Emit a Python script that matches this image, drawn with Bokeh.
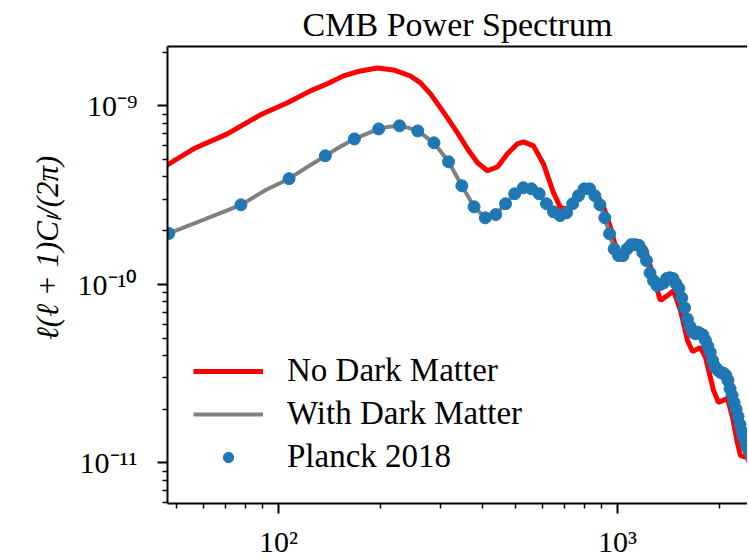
from bokeh.plotting import figure
from bokeh.models import (Range1d, LogAxis, CustomJSTickFormatter, Legend,
                          LegendItem, ColumnDataSource, FixedTicker)
from bokeh.embed import file_html
from bokeh.resources import INLINE

# ---------------- data (values in units of 1e-10) ----------------
SCALE = 1e-10

NODM_ELL = [45.2, 47.1, 56.2, 70.7, 88.5, 106.3, 124.3, 139.5, 155.5, 174.6,
            195.9, 218.4, 245.1, 262.4, 280.8, 300.6, 315.1, 337.3, 361.0, 386.4,
            413.5, 442.6, 473.6, 507.0, 528.1, 565.3, 605.0, 647.5, 679.1, 712.0,
            736.8, 788.6, 826.9, 861.3, 903.4, 953.7, 1006.7, 1048.6,
            1077.5, 1153, 1209, 1277, 1339, 1404, 1463, 1534, 1609, 1664,
            1757, 1818, 1920, 1986, 2111, 2184, 2259, 2306, 2418, 2502]
NODM_VAL = [4.44, 4.68, 5.75, 6.97, 8.91, 10.4, 12.13, 13.3, 14.72, 15.69,
            16.3, 15.9, 14.7, 13.45, 11.67, 9.74, 8.57, 7.06, 5.75, 4.80,
            4.33, 4.55, 5.39, 6.13, 6.29, 5.97, 4.73, 3.26, 2.69, 2.65,
            2.83, 3.26, 3.43, 3.26, 2.83, 2.08, 1.41, 1.45,
            1.58, 1.76, 1.58, 1.09, 0.812, 0.866, 0.923, 0.714, 0.485, 0.421,
            0.443, 0.390, 0.255, 0.218, 0.230, 0.180, 0.129, 0.110, 0.107, 0.091]

DM_ELL = [44, 47.5, 60, 77.5, 92, 107.5, 122, 137.5, 152, 167.5, 182, 197.5, 212,
          227.5, 242, 257.5, 287.5, 317.5, 347.5, 377.5, 407.5, 437.5, 467.5,
          497.5, 527.5, 557.5, 587.5, 617.5, 647.5, 677.5, 707.5, 737.5, 767.5,
          797.5, 827.5, 857.5, 887.5, 917.5, 947.5, 977.5, 1007.5, 1037.5, 1067.5,
          1097.5, 1127.5, 1157.5, 1187.5, 1217.5, 1247.5, 1277.5, 1307.5, 1337.5,
          1367.5, 1397.5, 1427.5, 1457.5, 1487.5, 1517.5, 1547.5, 1577.5, 1607.5,
          1637.5, 1667.5, 1697.5, 1727.5, 1757.5, 1787.5, 1817.5, 1847.5, 1877.5,
          1907.5, 1937.5, 1967.5, 1997.5, 2027.5, 2057.5, 2087.5, 2117.5, 2147.5,
          2177.5, 2207.5, 2237.5, 2267.5, 2297.5, 2327.5, 2357.5, 2387.5, 2417.5,
          2447.5, 2477.5]
DM_VAL = [1.85, 1.93, 2.30, 2.79, 3.39, 3.91, 4.56, 5.25, 5.90, 6.53, 6.97, 7.43, 7.64,
          7.73, 7.53, 7.24, 6.21, 4.86, 3.57, 2.72, 2.36, 2.46, 2.83,
          3.22, 3.48, 3.43, 3.22, 2.83, 2.55, 2.43, 2.52, 2.83, 3.14,
          3.43, 3.43, 3.14, 2.79, 2.36, 1.92, 1.58, 1.45, 1.45, 1.58,
          1.67, 1.67, 1.65, 1.51, 1.36, 1.16, 1.05, 0.985, 1.00,
          1.02, 1.08, 1.09, 1.08, 1.01, 0.95, 0.84, 0.74, 0.64,
          0.58, 0.54, 0.53, 0.54, 0.53, 0.52, 0.485, 0.45, 0.416,
          0.375, 0.347, 0.335, 0.325, 0.32, 0.317, 0.309, 0.29, 0.261,
          0.239, 0.218, 0.20, 0.182, 0.164, 0.150, 0.139, 0.129, 0.122,
          0.116, 0.110]

PLANCK_ELL = [47.5, 77.5, 107.5, 137.5, 167.5, 197.5, 227.5, 257.5, 287.5, 317.5,
              347.5, 377.5, 407.5, 437.5, 467.5, 497.5, 527.5, 557.5, 587.5, 617.5,
              647.5, 677.5, 707.5, 737.5, 767.5, 797.5, 827.5, 857.5, 887.5, 917.5,
              947.5, 977.5, 1007.5, 1037.5, 1067.5, 1097.5, 1127.5, 1157.5, 1187.5,
              1217.5, 1247.5, 1277.5, 1307.5, 1337.5, 1367.5, 1397.5, 1427.5, 1457.5,
              1487.5, 1517.5, 1547.5, 1577.5, 1607.5, 1637.5, 1667.5, 1697.5, 1727.5,
              1757.5, 1787.5, 1817.5, 1847.5, 1877.5, 1907.5, 1937.5, 1967.5, 1997.5,
              2027.5, 2057.5, 2087.5, 2117.5, 2147.5, 2177.5, 2207.5, 2237.5, 2267.5,
              2297.5, 2327.5, 2357.5, 2387.5, 2417.5, 2447.5, 2477.5]
PLANCK_VAL = [1.93, 2.79, 3.91, 5.25, 6.53, 7.43, 7.73, 7.24, 6.21, 4.86,
              3.57, 2.72, 2.36, 2.46, 2.83, 3.22, 3.48, 3.43, 3.22, 2.83,
              2.55, 2.43, 2.52, 2.83, 3.14, 3.43, 3.43, 3.14, 2.79, 2.36,
              1.92, 1.58, 1.45, 1.45, 1.58, 1.67, 1.67, 1.65, 1.51,
              1.36, 1.16, 1.05, 0.985, 1.00, 1.02, 1.08, 1.09, 1.08,
              1.01, 0.95, 0.84, 0.74, 0.64, 0.58, 0.54, 0.53, 0.54,
              0.53, 0.52, 0.485, 0.45, 0.416, 0.375, 0.347, 0.335, 0.325,
              0.32, 0.317, 0.309, 0.29, 0.261, 0.239, 0.218, 0.20, 0.182,
              0.164, 0.150, 0.139, 0.129, 0.122, 0.116, 0.110]

LABELS = ["No Dark Matter", "With Dark Matter", "Planck 2018"]
TITLE = "CMB Power Spectrum"
Y_LABEL = "\u00a0" * 7 + "\u2113(\u2113 + 1)C\u2097/(2\u03c0)"

X_RANGE = (47.07, 2418)
Y_RANGE = (5.93e-12, 2.15e-9)
X_MAJOR = [100, 1000]
X_MINOR = [50, 60, 70, 80, 90, 200, 300, 400, 500, 600, 700, 800, 900, 2000]
Y_MAJOR = [1e-11, 1e-10, 1e-9]
Y_MINOR = [6e-12, 7e-12, 8e-12, 9e-12, 2e-11, 3e-11, 4e-11, 5e-11, 6e-11, 7e-11,
           8e-11, 9e-11, 2e-10, 3e-10, 4e-10, 5e-10, 6e-10, 7e-10, 8e-10, 9e-10, 2e-9]

SERIF = "Liberation Serif"

# ---------------- figure ----------------
p = figure(frame_width=580, frame_height=457, x_axis_type="log", y_axis_type="log",
           x_range=Range1d(*X_RANGE), y_range=Range1d(*Y_RANGE),
           output_backend="svg", toolbar_location=None,
           min_border_left=167, min_border_top=46, min_border_right=0,
           min_border_bottom=50, title=TITLE)
p.outline_line_color = None
p.grid.visible = False
p.background_fill_color = "white"
p.border_fill_color = "white"

p.title.align = "center"
p.title.text_font = SERIF
p.title.text_font_size = "34px"
p.title.text_font_style = "normal"
p.title.text_color = "black"
p.title.standoff = 7

sup_js = """
const m = {'-':'\u207b','0':'\u2070','1':'\u00b9','2':'\u00b2','3':'\u00b3','4':'\u2074',
           '5':'\u2075','6':'\u2076','7':'\u2077','8':'\u2078','9':'\u2079'};
const e = Math.round(Math.log10(tick));
return '10' + String(e).split('').map(c => m[c]).join('');
"""
fmt = CustomJSTickFormatter(code=sup_js)

p.xaxis[0].ticker = FixedTicker(ticks=X_MAJOR, minor_ticks=X_MINOR)
p.yaxis[0].ticker = FixedTicker(ticks=Y_MAJOR, minor_ticks=Y_MINOR)

for ax in (p.xaxis[0], p.yaxis[0]):
    ax.formatter = fmt
    ax.axis_line_width = 2
    ax.axis_line_color = "black"
    ax.major_tick_line_width = 2
    ax.minor_tick_line_width = 1.5
    ax.major_tick_line_color = "black"
    ax.minor_tick_line_color = "black"
    ax.major_tick_in = 0
    ax.minor_tick_in = 0
    ax.major_tick_out = 10
    ax.minor_tick_out = 5
    ax.major_label_text_font = SERIF
    ax.major_label_text_font_size = "30px"
    ax.major_label_text_color = "black"

p.xaxis[0].major_label_standoff = 11
p.yaxis[0].major_label_standoff = 20
p.yaxis[0].axis_label = Y_LABEL
p.yaxis[0].axis_label_text_font = SERIF
p.yaxis[0].axis_label_text_font_size = "31px"
p.yaxis[0].axis_label_text_font_style = "italic"
p.yaxis[0].axis_label_text_color = "black"
p.yaxis[0].axis_label_standoff = 10

top = LogAxis(axis_line_width=2, axis_line_color="black",
              ticker=FixedTicker(ticks=[]),
              major_tick_line_color=None, minor_tick_line_color=None,
              major_tick_out=0, minor_tick_out=0, major_tick_in=0, minor_tick_in=0,
              major_label_standoff=0)
p.add_layout(top, "above")

# ---------------- glyphs ----------------
red_src = ColumnDataSource(dict(x=NODM_ELL, y=[v * SCALE for v in NODM_VAL]))
dm_src = ColumnDataSource(dict(x=DM_ELL, y=[v * SCALE for v in DM_VAL]))
pl_src = ColumnDataSource(dict(x=PLANCK_ELL, y=[v * SCALE for v in PLANCK_VAL]))

r_red = p.line("x", "y", source=red_src, line_color="#ff0000", line_width=5)
r_dm = p.line("x", "y", source=dm_src, line_color="#808080", line_width=4)
r_pl = p.scatter("x", "y", source=pl_src, size=12, fill_color="#1f77b4",
                 line_color="#1f77b4", marker="circle")

legend = Legend(items=[LegendItem(label=LABELS[0], renderers=[r_red]),
                       LegendItem(label=LABELS[1], renderers=[r_dm]),
                       LegendItem(label=LABELS[2], renderers=[r_pl])],
                location=(26, 28), padding=0, margin=0, spacing=6,
                glyph_width=70, glyph_height=26, label_height=32,
                label_standoff=24, border_line_alpha=0,
                background_fill_alpha=0,
                label_text_font=SERIF, label_text_font_size="33px",
                label_text_color="black")
p.add_layout(legend)

open("out.html", "w").write(file_html(p, INLINE))
